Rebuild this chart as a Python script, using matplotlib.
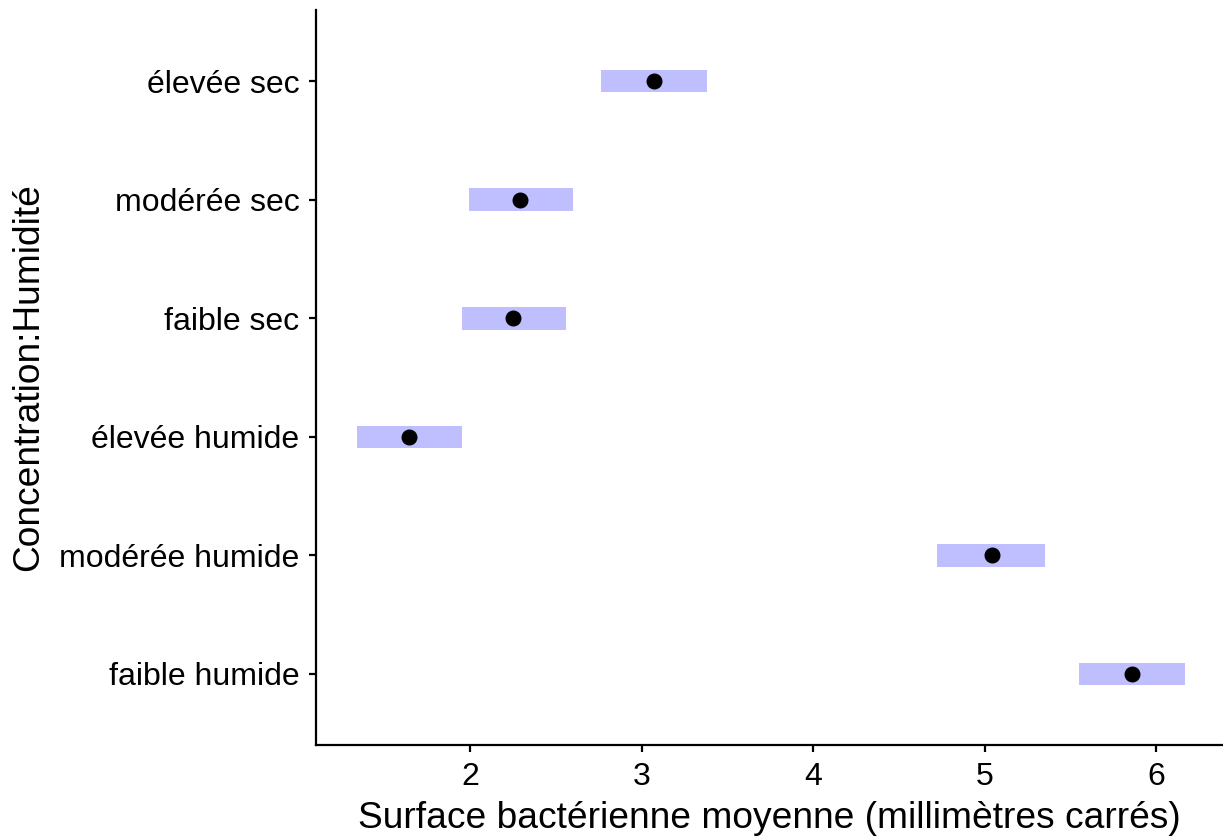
import matplotlib.pyplot as plt

plt.rcParams['font.family'] = ['Liberation Sans', 'DejaVu Sans']

# data (bottom to top)
groups = ['faible humide', 'modérée humide', 'élevée humide',
          'faible sec', 'modérée sec', 'élevée sec']
means = [5.86, 5.04, 1.64, 2.25, 2.29, 3.07]
lower = [5.55, 4.72, 1.34, 1.95, 1.99, 2.76]
upper = [6.17, 5.35, 1.95, 2.56, 2.60, 3.38]

fig = plt.figure(figsize=(12.23, 8.38), dpi=100)
ax = fig.add_axes([0.2584, 0.111, 0.7416, 0.877])

ypos = list(range(len(groups)))
ax.barh(ypos, [u - l for u, l in zip(upper, lower)], left=lower,
        height=0.19, color='#bfbfff', zorder=1)
ax.plot(means, ypos, 'o', color='black', markersize=10.5, zorder=2)

ax.set_yticks(ypos)
ax.set_yticklabels(groups)
ax.set_ylim(-0.6, len(groups) - 0.4)
ax.set_xlim(1.10, 6.39)
ax.set_xticks([2, 3, 4, 5, 6])

for s in ['top', 'right']:
    ax.spines[s].set_visible(False)
for s in ['left', 'bottom']:
    ax.spines[s].set_linewidth(1.6)
ax.tick_params(length=5, width=1.6, labelsize=23, pad=7)

ax.set_xlabel('Surface bactérienne moyenne (millimètres carrés)', fontsize=26.7, labelpad=7)
ax.set_ylabel('Concentration:Humidité', fontsize=26.7, labelpad=9)

fig.savefig('out.png', dpi=100)
